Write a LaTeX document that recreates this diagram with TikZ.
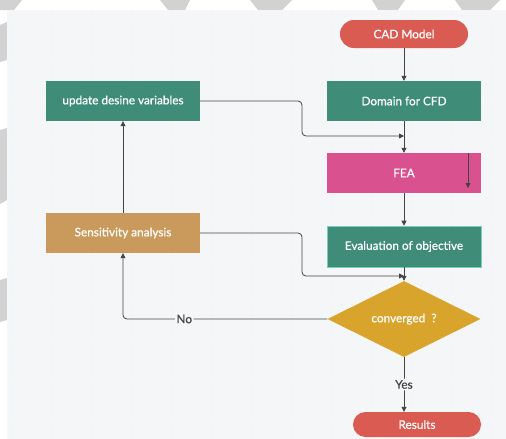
\documentclass[tikz,border=0pt]{standalone}
\usepackage{fontspec}
\setmainfont{Lato}[FakeBold=0.6]
\usetikzlibrary{shapes.geometric,arrows.meta}
\definecolor{bg}{HTML}{F5F6F8}
\definecolor{gridc}{HTML}{DCDDE0}
\definecolor{wm}{HTML}{D2D2D2}
\definecolor{cred}{HTML}{D95B52}
\definecolor{cteal}{HTML}{3F8C79}
\definecolor{cpink}{HTML}{D9518F}
\definecolor{ctan}{HTML}{C99A5B}
\definecolor{cgold}{HTML}{D9A42B}
\definecolor{cedge}{HTML}{7ACDBA}
\definecolor{cline}{HTML}{444444}
\tikzset{
  txt/.style={font=\fontsize{11.8}{13}\selectfont},
  box/.style={rectangle, minimum width=154pt, minimum height=40pt, inner sep=0pt, text=white, txt},
  pill/.style={rectangle, rounded corners=12.5pt, minimum width=128pt, inner sep=0pt, text=white, txt},
  conn/.style={draw=cline, line width=0.8pt, rounded corners=4pt, -{Triangle[length=5pt,width=5pt]}},
  lbl/.style={fill=bg, inner sep=1.5pt, text=cline, txt}
}
\begin{document}
\begin{tikzpicture}[x=1pt,y=-1pt]
\useasboundingbox (0,0) rectangle (506,439);
\fill[white] (0,0) rectangle (506,439);
% watermark fragments
\fill[wm] (0,0) -- (22,0) -- (14,10) -- (0,10) -- cycle;
\fill[wm] (160,0) -- (190,0) -- (185,10) -- (168,10) -- cycle;
\fill[wm] (250,0) -- (292,0) -- (282,10) -- (258,10) -- cycle;
\fill[wm] (372,0) -- (405,0) -- (398,10) -- (378,10) -- cycle;
\fill[wm] (455,0) -- (500,0) -- (490,10) -- (462,10) -- cycle;
\fill[wm] (0,25) -- (7,22) -- (7,60) -- (0,62) -- cycle;
\fill[wm] (0,130) -- (7,128) -- (7,200) -- (0,204) -- cycle;
\fill[wm] (0,280) -- (7,278) -- (7,320) -- (0,322) -- cycle;
% panel
\fill[bg] (7,10) rectangle (506,439);
\foreach \i in {0,...,49} {\foreach \j in {0,...,42} {
  \fill[gridc] (12+\i*10,15+\j*10) circle (0.45pt);
}}
% nodes
\node[pill, fill=cred, minimum height=28pt, rounded corners=14pt] (cad) at (404,34) {CAD Model};
\node[box, fill=cteal] (dom) at (404,101) {Domain for CFD};
\node[box, fill=cteal] (upd) at (123,101) {update desine variables};
\node[box, fill=cpink] (fea) at (404,173) {FEA};
\node[box, fill=cteal, draw=cedge, line width=0.6pt, minimum height=41pt] (eva) at (404,246.5) {Evaluation of objective};
\node[box, fill=ctan] (sen) at (123,233) {Sensitivity analysis};
\node[diamond, fill=cgold, minimum width=153pt, minimum height=52pt, inner sep=0pt, text=white, txt] (dia) at (404,319) {converged\ \ ?};
\node[pill, fill=cred, minimum height=25pt] (res) at (417,424.5) {Results};
\coordinate (m1) at (404,136);
\coordinate (m2) at (404,276);
\coordinate (f1) at (468,153);
\coordinate (f2) at (468,188);
% connectors
\draw[conn] (cad) -- (dom);
\draw[conn] (dom) -- (fea);
\draw[conn] (fea) -- (eva);
\draw[conn] (eva) -- (dia);
\draw[conn] (upd.east) -| (302,136) -- (m1);
\draw[conn] (sen.east) -| (302,276) -- (m2);
\draw[conn] (sen.north) -- (upd.south);
\draw[conn] (dia.west) -| (sen.south) node[lbl, pos=0.35] {No};
\draw[conn] (dia.south) -- (dia.south |- res.north) node[lbl, midway] {Yes};
\draw[conn] (f1) -- (f2);
\end{tikzpicture}
\end{document}
